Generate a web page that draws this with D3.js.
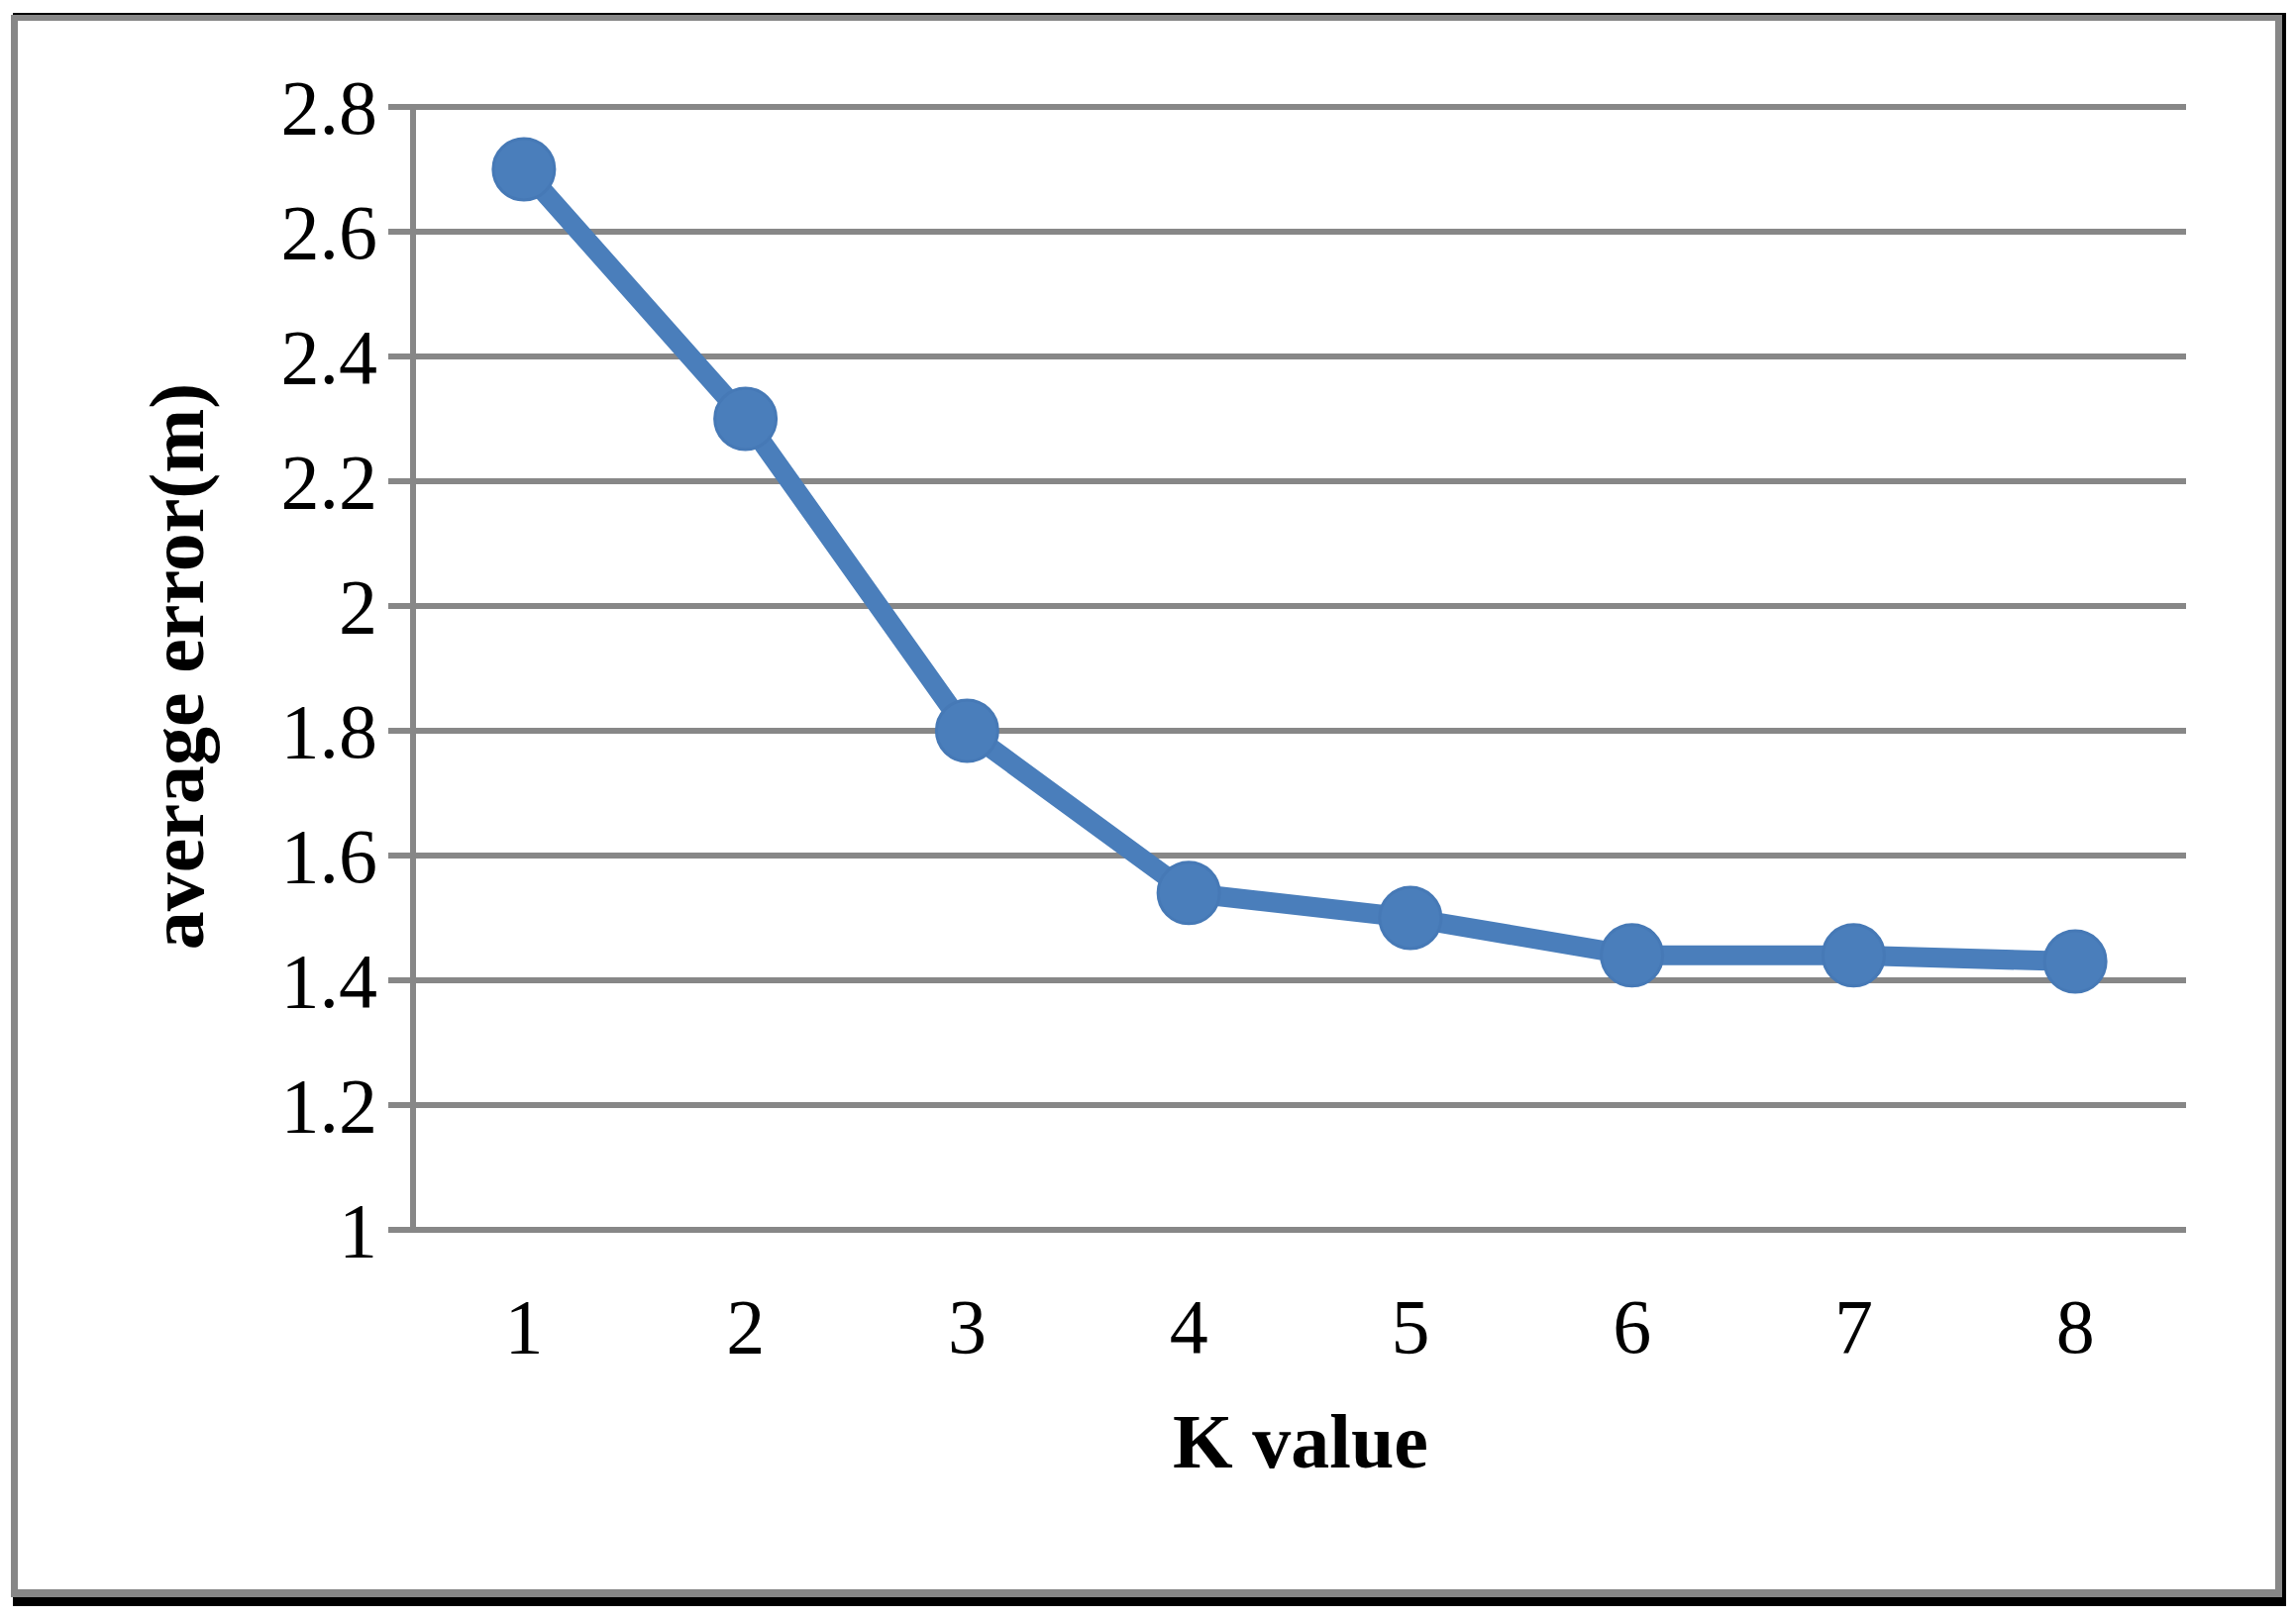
<!DOCTYPE html>
<html><head><meta charset="utf-8">
<script src="https://cdn.jsdelivr.net/npm/d3@7"></script>
<style>body{margin:0;background:#fff}</style>
</head><body>
<svg id="chart" width="2318" height="1634"></svg>
<script>
var kValues = ['1', '2', '3', '4', '5', '6', '7', '8'];
var avgError = [2.7, 2.3, 1.8, 1.54, 1.5, 1.44, 1.44, 1.43];
var yTicks = [1, 1.2, 1.4, 1.6, 1.8, 2, 2.2, 2.4, 2.6, 2.8];

(function() {
var svg = d3.select('#chart'),
	plotLeft = 417, plotRight = 2207, plotTop = 108, plotBottom = 1242,
	font = 'Liberation Serif, Times New Roman, serif',
	grey = '#878787', blue = '#4a7ebb';

// frame: grey box with black shadow
svg.append('rect').attr('x', 13).attr('y', 13).attr('width', 2295).attr('height', 1609).attr('fill', '#000');
svg.append('rect').attr('x', 11).attr('y', 15).attr('width', 2293).attr('height', 1598).attr('fill', grey);
svg.append('rect').attr('x', 18).attr('y', 21).attr('width', 2279).attr('height', 1584).attr('fill', '#fff');

var x = d3.scaleBand().domain(kValues).range([plotLeft, plotRight]);
var y = d3.scaleLinear().domain([1, 2.8]).range([plotBottom, plotTop]);

// gridlines
svg.append('g').selectAll('line').data(yTicks).join('line')
	.attr('x1', plotLeft - 25).attr('x2', plotRight)
	.attr('y1', function(d) { return y(d); }).attr('y2', function(d) { return y(d); })
	.attr('stroke', grey).attr('stroke-width', 6);

svg.append('line').attr('x1', plotLeft).attr('x2', plotLeft).attr('y1', plotTop).attr('y2', plotBottom)
	.attr('stroke', grey).attr('stroke-width', 6);

// tick labels
svg.append('g').selectAll('text').data(yTicks).join('text')
	.attr('x', plotLeft - 36).attr('y', function(d) { return y(d) + 27; })
	.attr('text-anchor', 'end').attr('font-family', font).attr('font-size', 78)
	.text(function(d) { return d3.format('~g')(d); });

svg.append('g').selectAll('text').data(kValues).join('text')
	.attr('x', function(d) { return x(d) + x.bandwidth() / 2; }).attr('y', 1366)
	.attr('text-anchor', 'middle').attr('font-family', font).attr('font-size', 78)
	.text(function(d) { return d; });

// axis titles
svg.append('text').attr('x', 1313).attr('y', 1482).attr('text-anchor', 'middle')
	.attr('font-family', font).attr('font-size', 78).attr('font-weight', 'bold').text('K value');
svg.append('text').attr('transform', 'translate(205,673) rotate(-90)').attr('text-anchor', 'middle')
	.attr('font-family', font).attr('font-size', 78).attr('font-weight', 'bold').text('average error(m)');

// series
var pts = kValues.map(function(k, i) { return [x(k) + x.bandwidth() / 2, y(avgError[i])]; });
svg.append('path').attr('d', d3.line()(pts)).attr('fill', 'none')
	.attr('stroke', blue).attr('stroke-width', 20).attr('stroke-linejoin', 'round');
svg.append('g').selectAll('circle').data(pts).join('circle')
	.attr('cx', function(d) { return d[0]; }).attr('cy', function(d) { return d[1]; })
	.attr('r', 31).attr('fill', blue).attr('stroke', '#4679b6').attr('stroke-width', 3);
})();
</script>
</body></html>
